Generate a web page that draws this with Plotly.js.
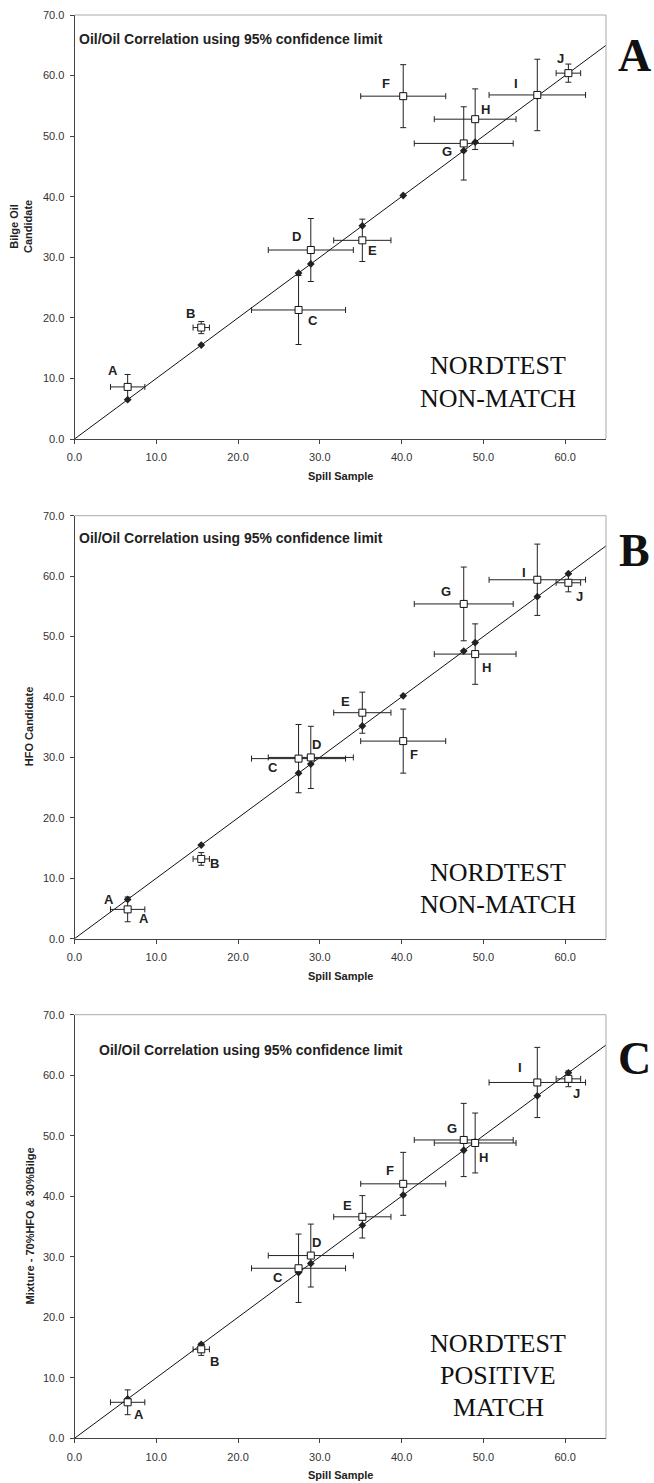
<!DOCTYPE html>
<html><head><meta charset="utf-8">
<script src="https://cdn.plot.ly/plotly-3.0.1.min.js"></script>
<style>html,body{margin:0;padding:0;background:#fff}</style>
</head><body>
<div id="chart" style="width:654px;height:1483px"></div>
<script>
// ---------------- DATA ----------------
const letters = ['A','B','C','D','E','F','G','H','I','J'];
const spillX = [6.5, 15.5, 27.4, 28.9, 35.2, 40.2, 47.6, 49.0, 56.6, 60.4];
const spillErr = [2.1, 1.0, 5.75, 5.2, 3.5, 5.2, 6.05, 5.0, 5.9, 1.5];
const bilgeY = [8.6, 18.4, 21.3, 31.2, 32.8, 56.6, 48.8, 52.8, 56.8, 60.4];
const bilgeErr = [2.05, 1.0, 5.7, 5.2, 3.5, 5.2, 6.05, 5.0, 5.9, 1.5];
const hfoY = [4.85, 13.2, 29.8, 30.0, 37.4, 32.7, 55.4, 47.1, 59.4, 58.9];
const hfoErr = [2.05, 1.05, 5.65, 5.15, 3.4, 5.3, 6.1, 5.0, 5.9, 1.5];
const mixY = [5.95, 14.7, 28.1, 30.2, 36.6, 42.05, 49.3, 48.8, 58.8, 59.4];
const mixErr = [2.05, 1.0, 5.65, 5.2, 3.5, 5.2, 6.05, 4.95, 5.8, 1.3];
const fitLine = [0, 65];
const xTicks = [0, 10, 20, 30, 40, 50, 60];
const yTicks = [0, 10, 20, 30, 40, 50, 60, 70];
const headerText = 'Oil/Oil Correlation using 95% confidence limit';
const xTitle = 'Spill Sample';

// ---------------- STYLE / LAYOUT ----------------
const W = 654, H = 1483;
const X0 = 74.5, X1 = 606;
const py = p => 1 - p / H;
const px = p => p / W;
const FONT = '"Liberation Sans", Arial, Helvetica, sans-serif';
const SERIF = '"Liberation Serif", "Times New Roman", Times, serif';

// label pixel offsets [dx, dy(down)] relative to candidate square
const panels = [
  {top: 15, bottom: 439, y: bilgeY, err: bilgeErr,
   yTitle: '<b>Bilge Oil<br>Candidate</b>', yTitleX: 21,
   tag: 'A', tagY: 55, header: {x: 77, y: 38.7},
   verdict: ['NORDTEST', 'NON-MATCH'], verdictY: [365, 398],
   offs: [[-15,-16],[-11,-14],[14,11],[-14,-14],[10,10],[-17,-13],[-17,8],[10,-10],[-21,-11],[-8,-15]],
   extra: []},
  {top: 515.7, bottom: 938.7, y: hfoY, err: hfoErr,
   yTitle: '<b>HFO Candidate</b>', yTitleX: 29,
   tag: 'B', tagY: 551, header: {x: 77, y: 538.3},
   verdict: ['NORDTEST', 'NON-MATCH'], verdictY: [872, 904],
   offs: [[16,9],[13,5],[-26,9],[6,-13],[-17,-11],[11,13],[-18,-12],[11,13],[-13,-7],[11,14]],
   extra: [[0, -19, -10]]},
  {top: 1014.7, bottom: 1438.3, y: mixY, err: mixErr,
   yTitle: '<b>Mixture - 70%HFO & 30%Bilge</b>', yTitleX: 29,
   tag: 'C', tagY: 1058, header: {x: 97, y: 1050},
   verdict: ['NORDTEST', 'POSITIVE', 'MATCH'], verdictY: [1343, 1375, 1407],
   offs: [[11,12],[13,12],[-21,9],[6,-13],[-15,-11],[-13,-13],[-12,-11],[8,15],[-17,-15],[8,15]],
   extra: []}
];

const data = [];
const layout = {
  width: W, height: H,
  margin: {l: 0, r: 0, t: 0, b: 0},
  paper_bgcolor: '#fff', plot_bgcolor: '#fff',
  showlegend: false,
  font: {family: FONT, color: '#222'},
  annotations: [], shapes: []
};

panels.forEach((p, i) => {
  const n = i === 0 ? '' : String(i + 1);
  const xa = 'x' + n, ya = 'y' + n;
  const axisCommon = {
    showgrid: false, zeroline: false, showline: true,
    linecolor: '#444', linewidth: 1, ticks: 'outside', ticklen: 4,
    tickcolor: '#444', tickwidth: 1, tickformat: '.1f',
    tickfont: {family: FONT, size: 11, color: '#333'},
    fixedrange: true
  };
  layout['xaxis' + n] = Object.assign({}, axisCommon, {
    domain: [px(X0), px(X1)], range: [0, 65], tickvals: xTicks,
    anchor: ya, ticklabelstandoff: 4
  });
  layout['yaxis' + n] = Object.assign({}, axisCommon, {
    domain: [py(p.bottom), py(p.top)], range: [0, 70], tickvals: yTicks,
    anchor: xa, ticklabelstandoff: 3
  });

  data.push({x: fitLine, y: fitLine, xaxis: xa, yaxis: ya, mode: 'lines',
    line: {color: '#111', width: 1}, hoverinfo: 'skip'});
  data.push({x: spillX, y: spillX, xaxis: xa, yaxis: ya, mode: 'markers',
    marker: {symbol: 'diamond', size: 6, color: '#222', line: {width: 0}}});
  data.push({x: spillX, y: p.y, xaxis: xa, yaxis: ya, mode: 'markers',
    marker: {symbol: 'square', size: 7, color: '#fff', line: {color: '#111', width: 1}},
    error_x: {type: 'data', array: spillErr, visible: true, color: '#222', thickness: 1, width: 3},
    error_y: {type: 'data', array: p.err, visible: true, color: '#222', thickness: 1, width: 3}});

  letters.forEach((L, k) => {
    layout.annotations.push({xref: xa, yref: ya, x: spillX[k], y: p.y[k], text: '<b>' + L + '</b>',
      showarrow: false, xshift: p.offs[k][0], yshift: -p.offs[k][1],
      font: {family: FONT, size: 13, color: '#222'}});
  });
  p.extra.forEach(e => {
    const k = e[0];
    layout.annotations.push({xref: xa, yref: ya, x: spillX[k], y: p.y[k], text: '<b>' + letters[k] + '</b>',
      showarrow: false, xshift: e[1], yshift: -e[2],
      font: {family: FONT, size: 13, color: '#222'}});
  });

  layout.annotations.push({xref: 'paper', yref: 'paper', x: px(p.header.x), y: py(p.header.y),
    xanchor: 'left', yanchor: 'middle', showarrow: false, text: '<b>' + headerText + '</b>',
    font: {family: FONT, size: 14, color: '#222'}});
  layout.annotations.push({xref: 'paper', yref: 'paper', x: px((X0 + X1) / 2), y: py(p.bottom + 37),
    xanchor: 'center', yanchor: 'middle', showarrow: false, text: '<b>' + xTitle + '</b>',
    font: {family: FONT, size: 11, color: '#222'}});
  layout.annotations.push({xref: 'paper', yref: 'paper', x: px(p.yTitleX), y: py((p.top + p.bottom) / 2),
    xanchor: 'center', yanchor: 'middle', showarrow: false, textangle: -90, text: p.yTitle,
    font: {family: FONT, size: 11, color: '#222'}});
  layout.annotations.push({xref: 'paper', yref: 'paper', x: px(634), y: py(p.tagY),
    xanchor: 'center', yanchor: 'middle', showarrow: false, text: '<b>' + p.tag + '</b>',
    font: {family: SERIF, size: 46, color: '#111'}});
  p.verdict.forEach((t, k) => {
    layout.annotations.push({xref: 'paper', yref: 'paper', x: px(498), y: py(p.verdictY[k]),
      xanchor: 'center', yanchor: 'middle', showarrow: false, text: t,
      font: {family: SERIF, size: 26, color: '#111'}});
  });
  layout.shapes.push({type: 'line', xref: xa + ' domain', yref: ya + ' domain', x0: 0, x1: 1, y0: 1, y1: 1,
    line: {color: '#aaa', width: 1}});
  layout.shapes.push({type: 'line', xref: xa + ' domain', yref: ya + ' domain', x0: 1, x1: 1, y0: 0, y1: 1,
    line: {color: '#aaa', width: 1}});
});

Plotly.newPlot('chart', data, layout, {staticPlot: true, displayModeBar: false});
</script>
</body></html>
